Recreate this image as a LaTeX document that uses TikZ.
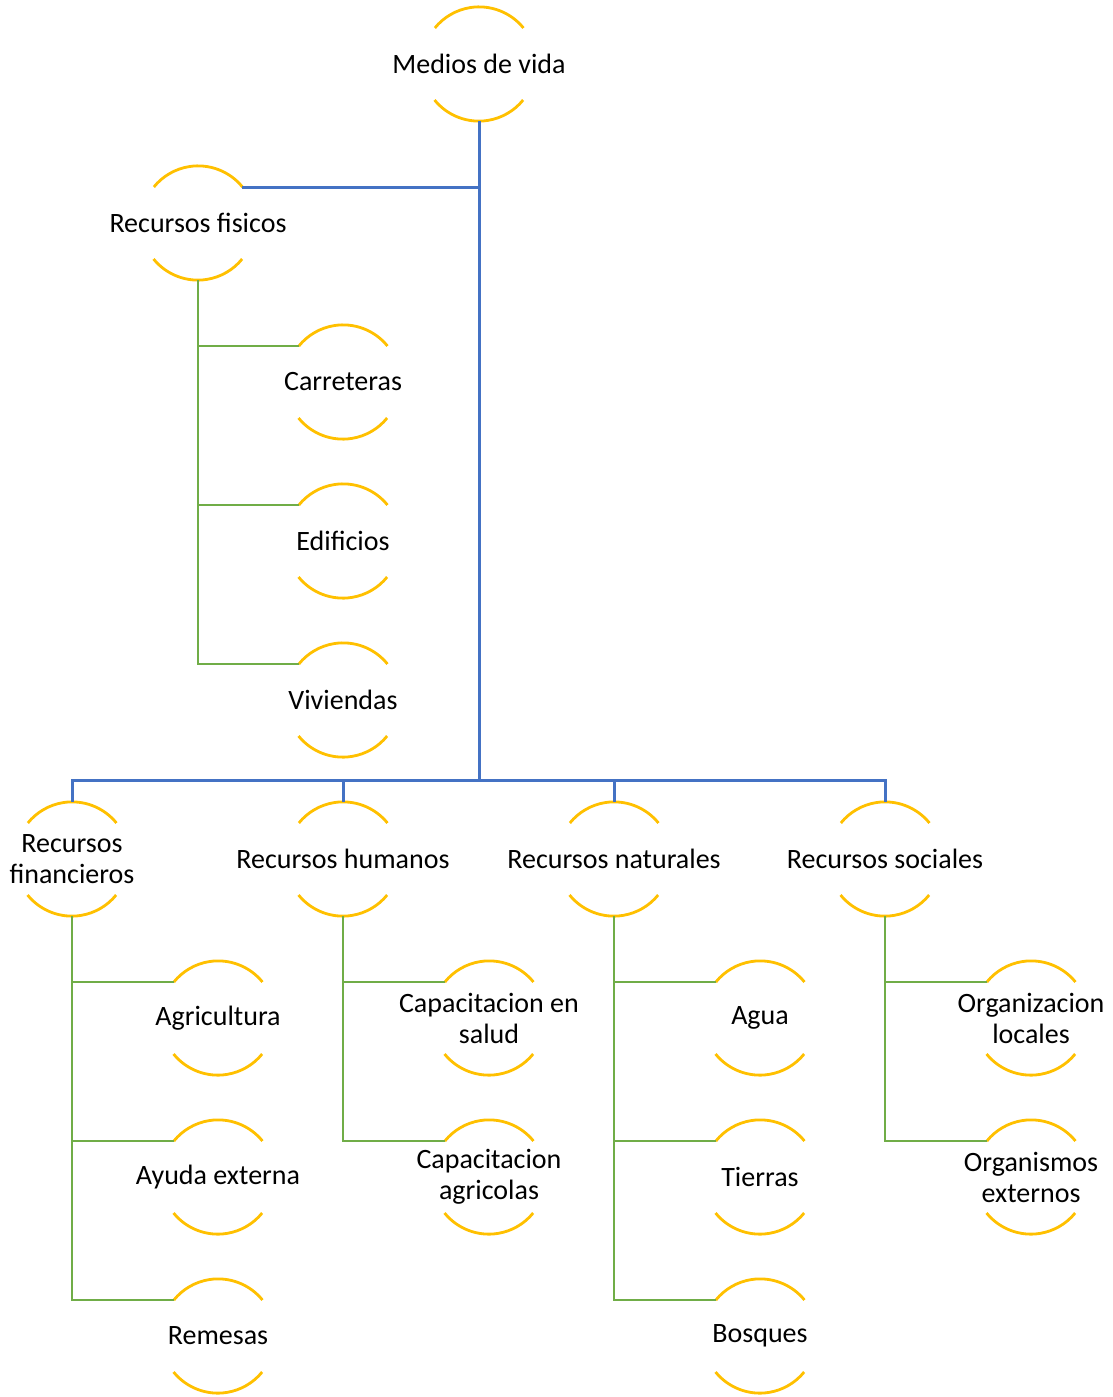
\documentclass[tikz,border=0pt]{standalone}
\usepackage{fontspec}
\setmainfont{Carlito}
\usepackage{tikz}

\definecolor{ringyellow}{HTML}{FFC000}
\definecolor{linkblue}{HTML}{4472C4}
\definecolor{linkgreen}{HTML}{70AD47}

\begin{document}
\begin{tikzpicture}[x=1pt, y=-1pt,
    item/.style={circle, inner sep=0pt, minimum size=114pt},
    ring/.style={ringyellow, line width=2.8pt},
    bluelink/.style={linkblue, line width=3pt},
    greenlink/.style={linkgreen, line width=2.8pt},
    every label/.style={align=center, font=\fontsize{28}{31}\selectfont}]
    % Medios de vida hierarchy
    \useasboundingbox (0,0) rectangle (1113,1397);
    \node (medios) at (479,64) [item, label=center:{Medios de vida}] {};
    \node (fisicos) at (198,223) [item, label=center:{Recursos fisicos}] {};
    \node (carreteras) at (343,382) [item, label=center:{Carreteras}] {};
    \node (edificios) at (343,541) [item, label=center:{Edificios}] {};
    \node (viviendas) at (343,700) [item, label=center:{Viviendas}] {};

    \node (finan) at (72,859) [item, label=center:{Recursos\\financieros}] {};
    \node (humanos) at (343,859) [item, label=center:{Recursos humanos}] {};
    \node (naturales) at (614,859) [item, label=center:{Recursos naturales}] {};
    \node (sociales) at (885,859) [item, label=center:{Recursos sociales}] {};

    \node (agri) at (218,1018) [item, label=center:{Agricultura}] {};
    \node (ayuda) at (218,1177) [item, label=center:{Ayuda externa}] {};
    \node (remesas) at (218,1336) [item, label=center:{Remesas}] {};
    \node (salud) at (489,1018) [item, label=center:{Capacitacion en\\salud}] {};
    \node (capagri) at (489,1177) [item, label=center:{Capacitacion\\agricolas}] {};
    \node (agua) at (760,1018) [item, label=center:{Agua}] {};
    \node (tierras) at (760,1177) [item, label=center:{Tierras}] {};
    \node (bosques) at (760,1336) [item, label=center:{Bosques}] {};
    \node (orglocal) at (1031,1018) [item, label=center:{Organizacion\\locales}] {};
    \node (orgext) at (1031,1177) [item, label=center:{Organismos\\externos}] {};

    % open rings
    \foreach \n in {medios,fisicos,carreteras,edificios,viviendas,finan,humanos,naturales,sociales,
                    agri,ayuda,remesas,salud,capagri,agua,tierras,bosques,orglocal,orgext} {
        \draw [ring] (\n.39) arc (-39:-141:57);
        \draw [ring] (\n.219) arc (-219:-321:57);
    }

    % blue links
    \coordinate (hub) at (479,780);
    \draw [bluelink] (medios.south) -- (hub);
    \draw [bluelink] (fisicos.39) -- (fisicos.39 -| medios.south);
    \foreach \n in {finan,humanos,naturales,sociales}
        \draw [bluelink] (hub) -| (\n.north);

    % green links
    \foreach \a/\b in {fisicos/carreteras, fisicos/edificios, fisicos/viviendas,
                       finan/agri, finan/ayuda, finan/remesas,
                       humanos/salud, humanos/capagri,
                       naturales/agua, naturales/tierras, naturales/bosques,
                       sociales/orglocal, sociales/orgext}
        \draw [greenlink] (\a.south) |- (\b.141);
\end{tikzpicture}
\end{document}
